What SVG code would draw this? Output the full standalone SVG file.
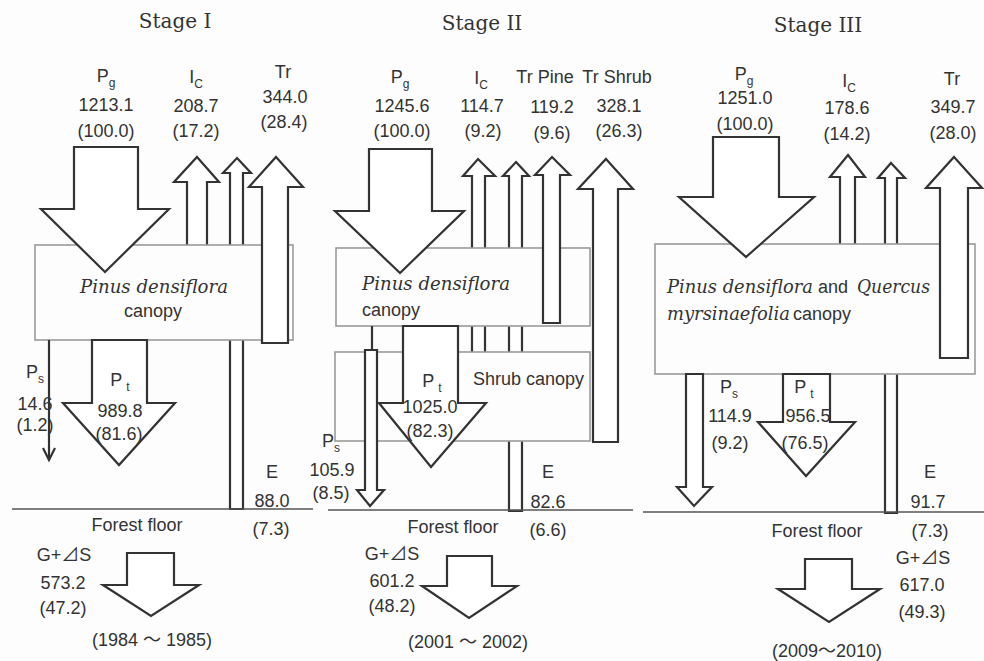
<svg xmlns="http://www.w3.org/2000/svg" width="984" height="661" viewBox="0 0 984 661">
<style>
.ar{fill:#fff;stroke:#333;stroke-width:2.2;stroke-linejoin:miter}
.box{fill:#fdfdfd;stroke:#9a9a9a;stroke-width:1.6}
.ln{stroke:#333;stroke-width:2.2;fill:none}
.fl{stroke:#555;stroke-width:1.5}
.t{font-family:"Liberation Sans","DejaVu Sans","Noto Sans CJK JP",sans-serif;font-size:18px;fill:#333;text-anchor:middle}
.s{text-anchor:start}
.sub{font-size:12px}
.tri{font-family:"Noto Sans CJK JP","DejaVu Sans",sans-serif}
.ttl{font-family:"DejaVu Serif","Liberation Serif",serif;font-size:20px;fill:#333;text-anchor:middle}
.it{font-family:"DejaVu Serif","Liberation Serif",serif;font-style:italic;font-size:18px;fill:#333}
</style>
<rect width="984" height="661" fill="#fdfdfd"/>

<!-- connectors drawn behind canopy boxes -->
<g id="connectors-behind">
  <polygon class="ar" points="237,158 251,173 243,173 243,509 230,509 230,173 223,173"/>
  <polygon class="ar" points="197,157 219,182 207,182 207,250 187,250 187,182 174,182"/>
  <polygon class="ar" points="516,162 529,176 522,176 522,511 509,511 509,176 503,176"/>
  <polygon class="ar" points="478,159 495,176 485,176 485,355 472,355 472,176 463,176"/>
  <polygon class="ar" points="891,163 905,178 897,178 897,513 885,513 885,178 878,178"/>
  <polygon class="ar" points="848,155 865,177 855,177 855,250 840,250 840,177 830,177"/>
</g>

<!-- Stage I -->
<g id="stage1-title"><text class="ttl" x="175" y="28">Stage I</text></g>
<g id="stage1-canopy">
  <rect class="box" x="35" y="245" width="258" height="95"/>
  <text class="it" x="80" y="293" textLength="148" lengthAdjust="spacingAndGlyphs">Pinus densiflora</text>
  <text class="t" x="153" y="317">canopy</text>
</g>
<g id="stage1-floor">
  <line class="fl" x1="12" y1="509" x2="313" y2="509"/>
  <text class="t" x="137" y="531">Forest floor</text>
</g>

<!-- Stage II -->
<g id="stage2-title"><text class="ttl" x="482" y="30">Stage II</text></g>
<g id="stage2-pine-canopy">
  <rect class="box" x="336" y="248" width="254" height="78"/>
  <text class="it" x="362" y="290" textLength="148" lengthAdjust="spacingAndGlyphs">Pinus densiflora</text>
  <text class="t s" x="362" y="316">canopy</text>
</g>
<g id="stage2-shrub-canopy">
  <rect class="box" x="335" y="352" width="255" height="89"/>
  <text class="t s" x="473" y="385">Shrub canopy</text>
</g>
<g id="stage2-floor">
  <line class="fl" x1="328" y1="510" x2="633" y2="510"/>
  <text class="t" x="453" y="533">Forest floor</text>
</g>

<!-- Stage III -->
<g id="stage3-title"><text class="ttl" x="818" y="32">Stage III</text></g>
<g id="stage3-canopy">
  <rect class="box" x="655" y="244" width="320" height="130"/>
  <text class="it" x="667" y="293" textLength="146" lengthAdjust="spacingAndGlyphs">Pinus densiflora</text>
  <text class="t s" x="818" y="293">and</text>
  <text class="it" x="857" y="293" textLength="73" lengthAdjust="spacingAndGlyphs">Quercus</text>
  <text class="it" x="667" y="320" textLength="123" lengthAdjust="spacingAndGlyphs">myrsinaefolia</text>
  <text class="t s" x="793" y="320">canopy</text>
</g>
<g id="stage3-floor">
  <line class="fl" x1="643" y1="512" x2="984" y2="512"/>
  <text class="t" x="817" y="537">Forest floor</text>
</g>

<!-- connectors drawn over boxes -->
<g id="connectors">
  <!-- Stage I -->
  <polygon class="ar" points="276,157 303,187 288,187 288,343 262,343 262,187 249,187"/>
  <polygon class="ar" points="74,147 138,147 138,209 169,209 105,272 41,209 74,209"/>
  <polygon class="ar" points="92,340 147,340 147,403 175,403 119,465 63,403 92,403"/>
  <line class="ln" x1="49" y1="340" x2="49" y2="460"/>
  <polyline class="ln" points="43,448 49,460 55,448"/>
  <polygon class="ar" points="127,553 174,553 174,585 199,585 151,616 103,585 127,585"/>
  <!-- Stage II -->
  <polygon class="ar" points="552,157 570,175 560,175 560,323 543,323 543,175 535,175"/>
  <polygon class="ar" points="606,159 633,189 618,189 618,442 593,442 593,189 578,189"/>
  <polygon class="ar" points="369,149 432,149 432,211 464,211 400,273 335,211 369,211"/>
  <polygon class="ar" points="403,326 458,326 458,403 486,403 431,467 379,403 403,403"/>
  <line class="ln" x1="372" y1="326" x2="372" y2="350"/>
  <polygon class="ar" points="365,350 377,350 377,490 384,490 370,506 357,490 365,490"/>
  <polygon class="ar" points="447,556 492,556 492,586 517,586 469,618 422,586 447,586"/>
  <!-- Stage III -->
  <polygon class="ar" points="954,157 982,188 968,188 968,358 940,358 940,188 926,188"/>
  <polygon class="ar" points="713,137 779,137 779,197 814,197 746,257 679,197 713,197"/>
  <polygon class="ar" points="686,374 703,374 703,487 712,487 694,506 677,487 686,487"/>
  <polygon class="ar" points="783,374 830,374 830,422 855,422 806,476 758,422 783,422"/>
  <polygon class="ar" points="805,559 852,559 852,589 880,589 829,622 778,589 805,589"/>
</g>

<!-- labels -->
<g id="stage1-labels">
  <text class="t" x="106" y="82">P<tspan class="sub" dy="5">g</tspan></text>
  <text class="t" x="106" y="111">1213.1</text>
  <text class="t" x="106" y="137">(100.0)</text>
  <text class="t" x="196" y="83">I<tspan class="sub" dy="5">C</tspan></text>
  <text class="t" x="196" y="112">208.7</text>
  <text class="t" x="196" y="137">(17.2)</text>
  <text class="t" x="283" y="78">Tr</text>
  <text class="t" x="285" y="103">344.0</text>
  <text class="t" x="284" y="128">(28.4)</text>
  <text class="t" x="35" y="378">P<tspan class="sub" dy="5">s</tspan></text>
  <text class="t" x="35" y="410">14.6</text>
  <text class="t" x="35" y="431">(1.2)</text>
  <text class="t" x="120" y="386">P<tspan class="sub" dx="4" dy="5">t</tspan></text>
  <text class="t" x="120" y="417">989.8</text>
  <text class="t" x="119" y="440">(81.6)</text>
  <text class="t" x="272" y="478">E</text>
  <text class="t" x="272" y="507">88.0</text>
  <text class="t" x="271" y="535">(7.3)</text>
  <text class="t" x="64" y="561">G+<tspan class="tri">⊿</tspan>S</text>
  <text class="t" x="63" y="589">573.2</text>
  <text class="t" x="63" y="614">(47.2)</text>
  <text class="t" x="152" y="646">(1984 ～ 1985)</text>
</g>
<g id="stage2-labels">
  <text class="t" x="400" y="83">P<tspan class="sub" dy="5">g</tspan></text>
  <text class="t" x="402" y="112">1245.6</text>
  <text class="t" x="402" y="137">(100.0)</text>
  <text class="t" x="481" y="84">I<tspan class="sub" dy="5">C</tspan></text>
  <text class="t" x="482" y="112">114.7</text>
  <text class="t" x="483" y="137">(9.2)</text>
  <text class="t" x="545" y="83">Tr Pine</text>
  <text class="t" x="552" y="113">119.2</text>
  <text class="t" x="552" y="139">(9.6)</text>
  <text class="t" x="617" y="83">Tr Shrub</text>
  <text class="t" x="619" y="112">328.1</text>
  <text class="t" x="619" y="137">(26.3)</text>
  <text class="t" x="331" y="447">P<tspan class="sub" dy="5">s</tspan></text>
  <text class="t" x="332" y="476">105.9</text>
  <text class="t" x="331" y="499">(8.5)</text>
  <text class="t" x="432" y="387">P<tspan class="sub" dx="4" dy="5">t</tspan></text>
  <text class="t" x="430" y="413">1025.0</text>
  <text class="t" x="430" y="437">(82.3)</text>
  <text class="t" x="548" y="478">E</text>
  <text class="t" x="548" y="508">82.6</text>
  <text class="t" x="548" y="536">(6.6)</text>
  <text class="t" x="392" y="560">G+<tspan class="tri">⊿</tspan>S</text>
  <text class="t" x="392" y="587">601.2</text>
  <text class="t" x="392" y="612">(48.2)</text>
  <text class="t" x="468" y="648">(2001 ～ 2002)</text>
</g>
<g id="stage3-labels">
  <text class="t" x="744" y="80">P<tspan class="sub" dy="5">g</tspan></text>
  <text class="t" x="745" y="104">1251.0</text>
  <text class="t" x="745" y="130">(100.0)</text>
  <text class="t" x="849" y="87">I<tspan class="sub" dy="5">C</tspan></text>
  <text class="t" x="847" y="114">178.6</text>
  <text class="t" x="847" y="140">(14.2)</text>
  <text class="t" x="952" y="85">Tr</text>
  <text class="t" x="953" y="113">349.7</text>
  <text class="t" x="953" y="139">(28.0)</text>
  <text class="t" x="729" y="393">P<tspan class="sub" dy="5">s</tspan></text>
  <text class="t" x="730" y="422">114.9</text>
  <text class="t" x="730" y="449">(9.2)</text>
  <text class="t" x="804" y="393">P<tspan class="sub" dx="4" dy="5">t</tspan></text>
  <text class="t" x="808" y="422">956.5</text>
  <text class="t" x="805" y="449">(76.5)</text>
  <text class="t" x="930" y="478">E</text>
  <text class="t" x="928" y="508">91.7</text>
  <text class="t" x="930" y="537">(7.3)</text>
  <text class="t" x="923" y="564">G+<tspan class="tri">⊿</tspan>S</text>
  <text class="t" x="922" y="591">617.0</text>
  <text class="t" x="922" y="618">(49.3)</text>
  <text class="t" x="827" y="657">(2009～2010)</text>
</g>
</svg>
